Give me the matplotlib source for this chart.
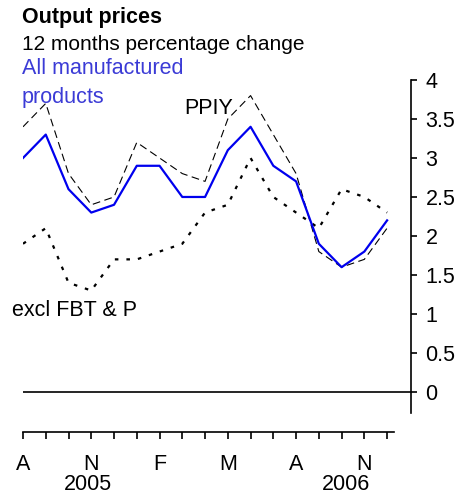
import matplotlib
matplotlib.use("Agg")
import matplotlib.pyplot as plt
import numpy as np

plt.rcParams['font.family'] = ['Liberation Sans', 'DejaVu Sans']

months = ["Aug 2005", "Sep 2005", "Oct 2005", "Nov 2005", "Dec 2005", "Jan 2006", "Feb 2006",
          "Mar 2006", "Apr 2006", "May 2006", "Jun 2006", "Jul 2006", "Aug 2006", "Sep 2006",
          "Oct 2006", "Nov 2006", "Dec 2006"]
all_manuf = [3.0, 3.3, 2.6, 2.3, 2.4, 2.9, 2.9, 2.5, 2.5, 3.1, 3.4, 2.9, 2.7, 1.9, 1.6, 1.8, 2.2]
ppiy = [3.4, 3.7, 2.8, 2.4, 2.5, 3.2, 3.0, 2.8, 2.7, 3.5, 3.8, 3.3, 2.8, 1.8, 1.6, 1.7, 2.1]
excl_fbtp = [1.9, 2.1, 1.4, 1.3, 1.7, 1.7, 1.8, 1.9, 2.3, 2.4, 3.0, 2.5, 2.3, 2.1, 2.6, 2.5, 2.3]
tick_labels = ["A", "N", "F", "M", "A", "N"]
year_labels = ["2005", "2006"]
yticks = [0, 0.5, 1, 1.5, 2, 2.5, 3, 3.5, 4]

W, H = 468, 495
FS = 15.5
fig = plt.figure(figsize=(W / 100, H / 100), dpi=100)

def fx(px):
    return px / W

def fy(py):
    return 1 - py / H

x = np.arange(len(months))
xlim = (0, 17.05)

ax = fig.add_axes([fx(23), fy(413), fx(411) - fx(23), fy(80) - fy(413)])
ax.plot(x, ppiy, color="black", lw=0.8, ls=(0, (7, 4)))
ax.plot(x, excl_fbtp, color="black", lw=1.6, ls=(0, (1.6, 3.6)))
ax.plot(x, all_manuf, color="#0000ee", lw=1.6)
ax.axhline(0, color="black", lw=1.2)
ax.set_xlim(*xlim)
ax.set_ylim(-0.27, 4)
for s in ["left", "top", "bottom"]:
    ax.spines[s].set_visible(False)
ax.spines["right"].set_linewidth(1.2)
ax.spines["right"].set_bounds(-0.27, 4)
ax.yaxis.tick_right()
ax.set_yticks(yticks)
ax.set_yticklabels([f"{v:g}" for v in yticks])
ax.tick_params(axis="y", direction="out", length=4.5, width=1.2, labelsize=FS, pad=6)
ax.set_xticks([])
ax.set_clip_on(False)

fig.text(fx(22), fy(68), "All manufactured", color="#3b3bd6", fontsize=FS, va="center", ha="left")
fig.text(fx(22), fy(97), "products", color="#3b3bd6", fontsize=FS, va="center", ha="left")
fig.text(fx(184), fy(108), "PPIY", color="black", fontsize=FS, va="center")
fig.text(fx(12), fy(310), "excl FBT & P", color="black", fontsize=FS, va="center")

# separate x axis below
ax2 = fig.add_axes([fx(23), fy(432), fx(411) - fx(23), 0.001])
ax2.set_xlim(*xlim)
for s in ["left", "top", "right"]:
    ax2.spines[s].set_visible(False)
ax2.spines["bottom"].set_linewidth(1.2)
ax2.spines["bottom"].set_bounds(0, 16.3)
ax2.set_yticks([])
ax2.set_xticks(x)
labels = [""] * len(x)
for i, t in enumerate(tick_labels):
    labels[i * 3] = t
ax2.set_xticklabels(labels)
ax2.tick_params(axis="x", direction="out", length=5, width=1.2, labelsize=FS, pad=11)
ax2.patch.set_visible(False)

fig.text(fx(88), fy(484), year_labels[0], fontsize=FS, ha="center", va="center")
fig.text(fx(346), fy(484), year_labels[1], fontsize=FS, ha="center", va="center")

fig.text(fx(22), fy(17), "Output prices", fontsize=FS, fontweight="bold", va="center")
fig.text(fx(22), fy(45), "12 months percentage change", fontsize=15, va="center")

fig.savefig("out.png", dpi=100)
